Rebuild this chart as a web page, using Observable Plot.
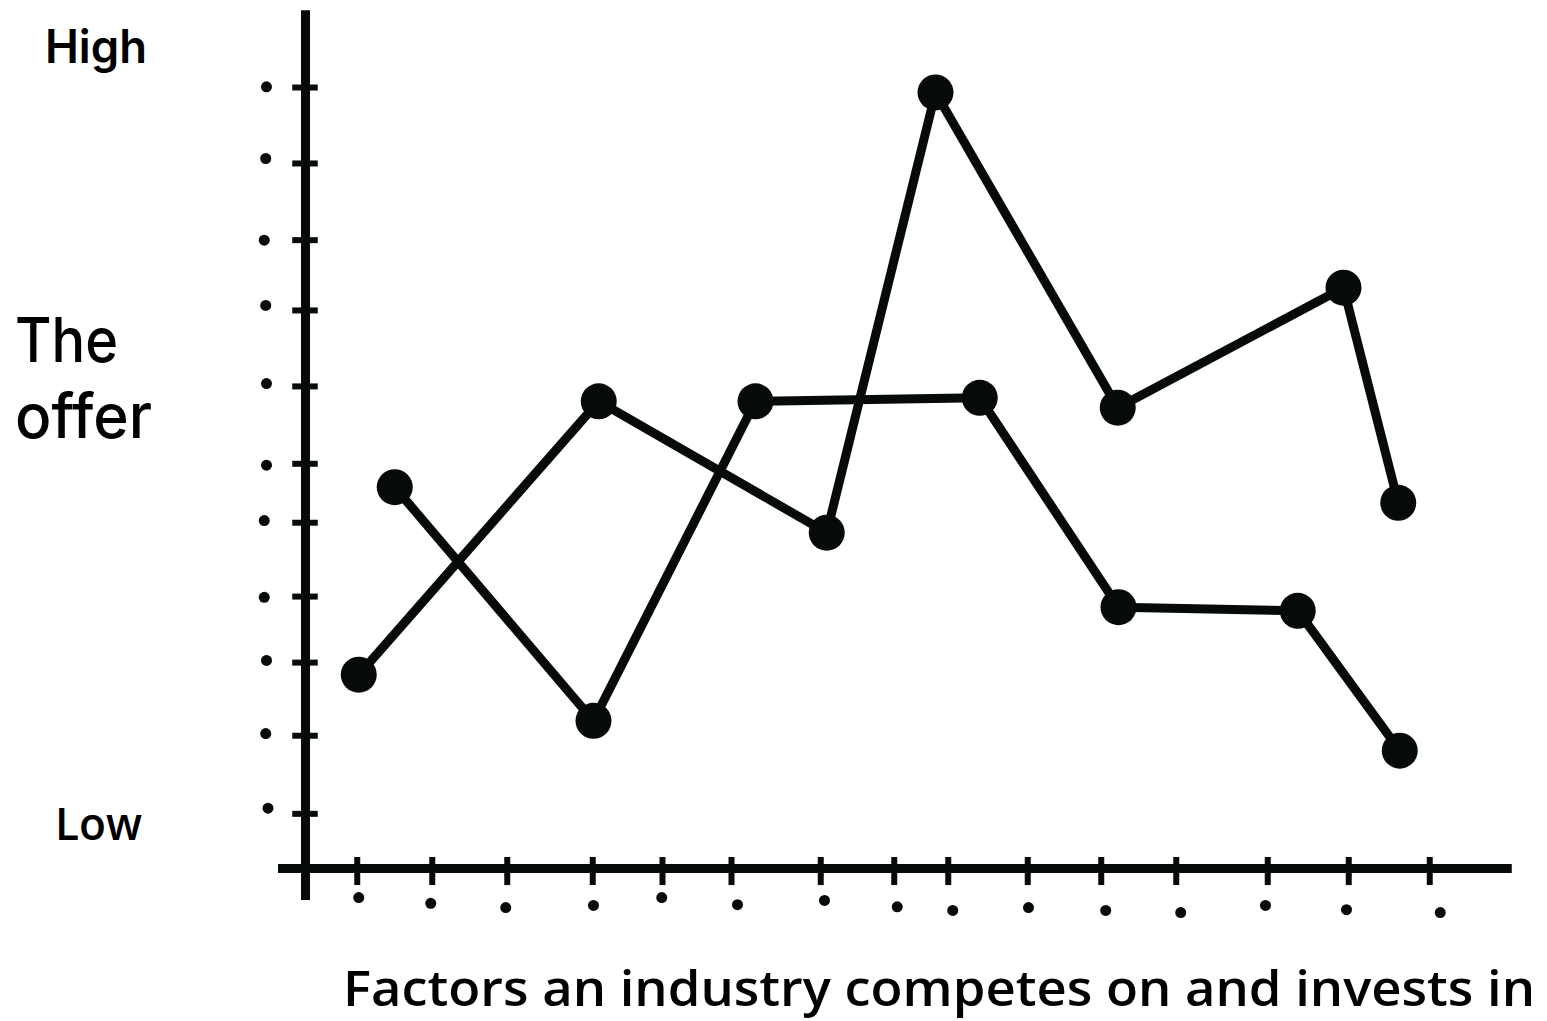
<!DOCTYPE html>
<html>
<head>
<meta charset="utf-8">
<script src="https://cdn.jsdelivr.net/npm/d3@7"></script>
<script src="https://cdn.jsdelivr.net/npm/@observablehq/plot@0.6"></script>
<style>
  html, body { margin: 0; padding: 0; background: #fff; }
  #wrap { position: relative; width: 1547px; height: 1021px; overflow: hidden; }
  #chart, #labels { position: absolute; left: 0; top: 0; }
  #labels { pointer-events: none; font-variant-ligatures: none; font-feature-settings: "liga" 0, "clig" 0; }
</style>
</head>
<body>
<div id="wrap">
  <div id="chart"></div>
  <svg id="labels" width="1547" height="1021"></svg>
</div>
<script>
// ---- data (factor position on x, offer level on y) ----
const factorA = [0.71, 3.91, 6.95, 8.40, 10.83, 13.84, 14.57];
const offerA  = [2.73, 6.58, 4.73, 10.93, 6.49, 8.18, 5.15];
const factorB = [1.19, 3.84, 6.00, 8.99, 10.84, 13.23, 14.59];
const offerB  = [5.37, 2.08, 6.58, 6.63, 3.68, 3.63, 1.66];

// hand-drawn tick marks on the axes
const yTicks = [0.77, 1.87, 2.90, 3.83, 4.87, 5.70, 6.79, 7.86, 8.85, 9.93, 11.0];
const yTickDotsY = [0.85, 1.90, 2.93, 3.82, 4.90, 5.68, 6.83, 7.93, 8.85, 10.0, 11.01];
const yTickDotsX = [-0.50, -0.53, -0.52, -0.55, -0.55, -0.52, -0.52, -0.53, -0.55, -0.53, -0.52];
const xTicks = [0.69, 1.69, 2.69, 3.83, 4.76, 5.68, 6.87, 7.85, 8.57, 9.63, 10.61, 11.61, 12.83, 13.91, 14.99];
const xTickDotsX = [0.71, 1.67, 2.67, 3.84, 4.75, 5.76, 6.92, 7.89, 8.63, 9.64, 10.67, 11.67, 12.80, 13.88, 15.13];
const xTickDotsY = [-0.41, -0.49, -0.55, -0.52, -0.41, -0.51, -0.45, -0.54, -0.59, -0.55, -0.59, -0.62, -0.52, -0.58, -0.62];

// labels
const yHigh = "High";
const yLow = "Low";
const yTitle = ["The", "offer"];
const xTitle = "Factors an industry competes on and invests in";

// ---- build tables ----
const points = [
  ...factorA.map((f, i) => ({series: "A", x: f, y: offerA[i]})),
  ...factorB.map((f, i) => ({series: "B", x: f, y: offerB[i]}))
];
const yDots = yTicks.map((_, i) => ({x: yTickDotsX[i], y: yTickDotsY[i]}));
const xDots = xTicks.map((_, i) => ({x: xTickDotsX[i], y: xTickDotsY[i]}));

const ink = "#060a0a";

const chart = Plot.plot({
  width: 1547,
  height: 1021,
  marginLeft: 305,
  marginRight: 42,
  marginTop: 16,
  marginBottom: 153,
  x: {domain: [0, 16], axis: null},
  y: {domain: [0, 12], axis: null},
  marks: [
    // axes
    Plot.ruleY([0], {x1: -0.36, x2: 16.09, stroke: ink, strokeWidth: 9}),
    Plot.ruleX([0], {y1: -0.45, y2: 12.08, stroke: ink, strokeWidth: 9}),
    // ticks
    Plot.ruleY(yTicks, {y: d => d, x1: -0.17, x2: 0.17, stroke: ink, strokeWidth: 6}),
    Plot.ruleX(xTicks, {x: d => d, y1: -0.24, y2: 0.155, stroke: ink, strokeWidth: 6}),
    Plot.dot(yDots, {x: "x", y: "y", r: 5.5, fill: ink}),
    Plot.dot(xDots, {x: "x", y: "y", r: 5.5, fill: ink}),
    // series
    Plot.line(points, {x: "x", y: "y", z: "series", stroke: ink, strokeWidth: 9, strokeLinejoin: "round", strokeLinecap: "round"}),
    Plot.dot(points, {x: "x", y: "y", r: 18, fill: ink})
  ]
});
document.getElementById("chart").appendChild(chart);

// ---- text labels ----
const svg = d3.select("#labels");
function label(t, x, y, size, len, family, weight) {
  svg.append("text")
    .attr("x", x).attr("y", y)
    .attr("font-family", family)
    .attr("font-size", size)
    .attr("font-weight", weight)
    .attr("fill", "#000")
    .attr("textLength", len)
    .attr("lengthAdjust", "spacingAndGlyphs")
    .text(t);
}
label(yHigh, 45, 63, 46, 102, "Inter, 'Liberation Sans', sans-serif", 600);
label(yLow, 55, 840, 46, 87, "'Open Sans', sans-serif", 600);
label(yTitle[0], 15, 362, 62, 103, "Inter, 'Liberation Sans', sans-serif", 500);
label(yTitle[1], 15, 438, 62, 137, "Inter, 'Liberation Sans', sans-serif", 500);
label(xTitle, 343, 1006, 48, 1192, "'Open Sans', sans-serif", 600);
</script>
</body>
</html>
